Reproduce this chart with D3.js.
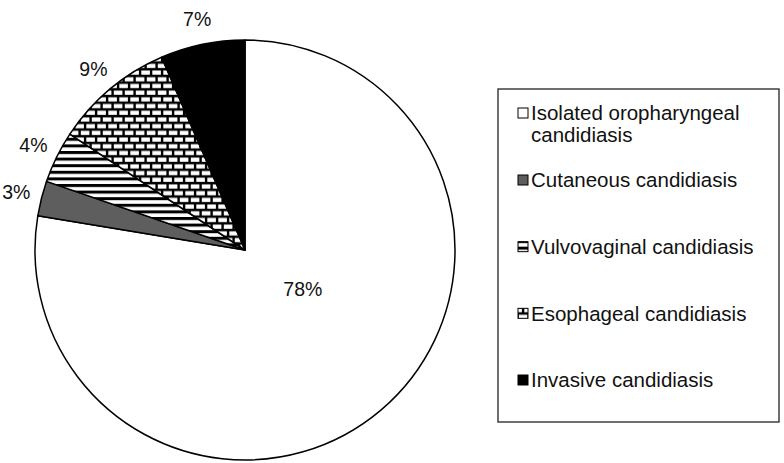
<!DOCTYPE html>
<html>
<head>
<meta charset="utf-8">
<script src="https://cdn.jsdelivr.net/npm/d3@7"></script>
<style>
  body { margin: 0; background: #fff; }
  svg text { font-family: "Liberation Sans", Arial, sans-serif; }
</style>
</head>
<body>
<svg id="pie-chart" width="784" height="463"></svg>
<script>
"use strict";

// slices clockwise from 12 o'clock
const categories = ["Isolated oropharyngeal candidiasis", "Cutaneous candidiasis",
                    "Vulvovaginal candidiasis", "Esophageal candidiasis", "Invasive candidiasis"];
const shares = [77.6, 2.7, 4.0, 9.2, 6.5];
const pctLabels = ["78%", "3%", "4%", "9%", "7%"];
const legendLines = [["Isolated oropharyngeal", "candidiasis"], ["Cutaneous candidiasis"],
                     ["Vulvovaginal candidiasis"], ["Esophageal candidiasis"], ["Invasive candidiasis"]];

const cx = 245, cy = 250, radius = 210;
const fills = ["#ffffff", "#5e5e5e", "url(#stripes)", "url(#bricks)", "#000000"];

const svg = d3.select("svg#pie-chart");
const defs = svg.append("defs");

// horizontal stripes
const stripes = defs.append("pattern")
    .attr("id", "stripes")
    .attr("patternUnits", "userSpaceOnUse")
    .attr("width", 8).attr("height", 6.6);
stripes.append("rect").attr("width", 8).attr("height", 6.6).attr("fill", "#fff");
stripes.append("rect").attr("width", 8).attr("height", 3).attr("fill", "#000");

// brick pattern
const bricks = defs.append("pattern")
    .attr("id", "bricks")
    .attr("patternUnits", "userSpaceOnUse")
    .attr("width", 11).attr("height", 13.4);
bricks.append("rect").attr("width", 11).attr("height", 13.4).attr("fill", "#000");
bricks.append("rect").attr("x", 0.8).attr("y", 1.4).attr("width", 8.6).attr("height", 4.2).attr("fill", "#fff");
bricks.append("rect").attr("x", -4.7).attr("y", 8.1).attr("width", 8.6).attr("height", 4.2).attr("fill", "#fff");
bricks.append("rect").attr("x", 6.3).attr("y", 8.1).attr("width", 8.6).attr("height", 4.2).attr("fill", "#fff");

const pie = d3.pie().sort(null).value(d => d);
const arcs = pie(shares);
const arc = d3.arc().innerRadius(0).outerRadius(radius);

const g = svg.append("g").attr("transform", `translate(${cx},${cy})`);

g.selectAll("path")
    .data(arcs)
    .join("path")
    .attr("d", arc)
    .attr("fill", (d, i) => fills[i])
    .attr("stroke", "#000")
    .attr("stroke-width", 1.5)
    .attr("stroke-linejoin", "round");

// percent labels: the big slice inside, the rest outside
function labelPos(d, i) {
    const mid = (d.startAngle + d.endAngle) / 2;
    if (i === 0) return d3.pointRadial(mid - 0.27, 70);
    return d3.pointRadial(mid, 236);
}

g.selectAll("text.pct")
    .data(arcs)
    .join("text")
    .attr("class", "pct")
    .attr("transform", (d, i) => `translate(${labelPos(d, i)})`)
    .attr("text-anchor", "middle")
    .attr("dy", "0.35em")
    .attr("font-size", 19.5)
    .attr("fill", "#111")
    .text((d, i) => pctLabels[i]);

// legend
const legend = svg.append("g");
legend.append("rect")
    .attr("x", 498).attr("y", 89)
    .attr("width", 281).attr("height", 333)
    .attr("fill", "#fff")
    .attr("stroke", "#222")
    .attr("stroke-width", 1.3);

const rowY = d3.scaleLinear().domain([1, 4]).range([180, 380]);
const rowCenter = i => i === 0 ? 113 : rowY(i);

const items = legend.selectAll("g.item")
    .data(categories)
    .join("g")
    .attr("class", "item")
    .attr("transform", (d, i) => `translate(518,${rowCenter(i)})`);

items.append("rect")
    .attr("x", 0).attr("y", -5)
    .attr("width", 10).attr("height", 10)
    .attr("fill", (d, i) => fills[i])
    .attr("stroke", "#000")
    .attr("stroke-width", 1);

items.each(function(d, i) {
    const t = d3.select(this).append("text")
        .attr("font-size", 20.5)
        .attr("fill", "#111");
    legendLines[i].forEach((line, k) => {
        t.append("tspan")
            .attr("x", 13)
            .attr("y", k * 22)
            .attr("dy", "0.35em")
            .text(line);
    });
});
</script>
</body>
</html>
